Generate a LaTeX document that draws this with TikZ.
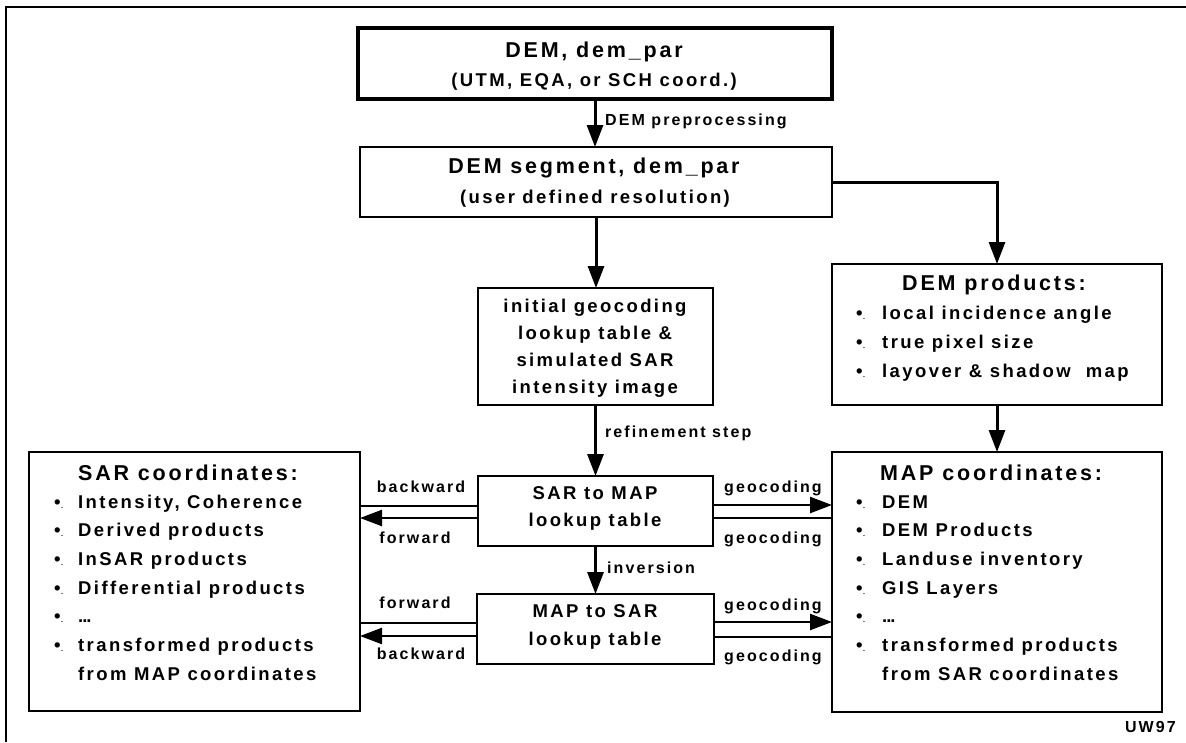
\documentclass[tikz,border=0pt]{standalone}
\usepackage{fontspec}
\setmainfont{Liberation Sans}[LetterSpace=13]
\usetikzlibrary{arrows.meta}
\tikzset{
  box/.style={draw, line width=1.2pt, inner sep=0pt, outer sep=0pt},
  thickbox/.style={box, line width=3.5pt},
  medbox/.style={box, line width=2.5pt},
  big/.style={font=\bfseries\fontsize{21.5}{21.5}\selectfont, inner sep=0pt, anchor=base},
  txt/.style={font=\bfseries\fontsize{18.5}{18.5}\selectfont, inner sep=0pt, anchor=base},
  lbl/.style={font=\bfseries\fontsize{16}{16}\selectfont, inner sep=0pt, anchor=base},
  bul/.style={txt, anchor=base west},
  arr/.style={line width=3pt, -{Triangle[length=22pt,width=16pt]}},
  harr/.style={line width=2.4pt, -{Triangle[length=22pt,width=16pt]}},
  plain/.style={line width=1.6pt},
  frame/.style={line width=2.5pt}
}
\newcommand{\bulletmark}{•\kern0.5pt{\fontsize{7}{7}\selectfont.}}
\newcommand{\threedots}{.\kern-1pt.\kern-1pt.}
\begin{document}
\begin{tikzpicture}[x=1pt,y=-1pt]
\useasboundingbox (0,0) rectangle (1186,742);
\draw[frame] (6,742) -- (6,7) -- (1186,7);

% boxes
\node[thickbox, minimum width=474pt, minimum height=71pt] (dem) at (595,63.5) {};
\node[box, minimum width=472pt, minimum height=70pt] (seg) at (596,182) {};
\node[box, minimum width=235pt, minimum height=117pt] (init) at (595.5,346.5) {};
\node[box, minimum width=235pt, minimum height=70pt] (s2m) at (595.5,511) {};
\node[medbox, minimum width=237pt, minimum height=70pt] (m2s) at (595.5,629) {};
\node[box, minimum width=331pt, minimum height=259pt] (sarc) at (194.5,581.5) {};
\node[box, minimum width=330pt, minimum height=141pt] (demp) at (997,334.5) {};
\node[box, minimum width=330pt, minimum height=260pt] (mapc) at (997,582) {};

% box texts
\node[big] (demA) at (594,57) {DEM, dem\_par};
\node[txt] (demB) at (594,86) {(UTM, EQA, or SCH coord.)};
\node[big] (segA) at (594,173) {DEM segment, dem\_par};
\node[txt] (segB) at (595,203) {(user defined resolution)};
\node[txt] (initA) at (595,312) {initial geocoding};
\node[txt] (initB) at (595,339) {lookup table \&};
\node[txt] (initC) at (595,366) {simulated SAR};
\node[txt] (initD) at (595,393) {intensity image};
\node[txt] (s2mA) at (595,499) {SAR to MAP};
\node[txt] (s2mB) at (595,526) {lookup table};
\node[txt] (m2sA) at (595,617) {MAP to SAR};
\node[txt] (m2sB) at (595,645) {lookup table};

% DEM products
\node[big, anchor=base west] (dempT) at (902,290) {DEM products:};
\foreach \i in {0,1,2}{
  \node[bul] (dempb\i) at (856,319+29*\i) {\bulletmark};
}
\node[bul] (dempi0) at (882,319) {local incidence angle};
\node[bul] (dempi1) at (882,348) {true pixel size};
\node[bul] (dempi2) at (882,377) {layover \& shadow\ \ map};

% SAR coordinates
\node[big, anchor=base west] (sarcT) at (78,480) {SAR coordinates:};
\foreach \i in {0,...,5}{
  \node[bul] (sarcb\i) at (54,508+28.67*\i) {\bulletmark};
  \node[bul] (mapcb\i) at (856,508+28.67*\i) {\bulletmark};
}
\node[bul] (sarci0) at (78,508) {Intensity, Coherence};
\node[bul] (sarci1) at (78,536.67) {Derived products};
\node[bul] (sarci2) at (78,565.33) {InSAR products};
\node[bul] (sarci3) at (78,594) {Differential products};
\node[bul] (sarci4) at (78,622.67) {\threedots};
\node[bul] (sarci5) at (78,651.33) {transformed products};
\node[bul] (sarci6) at (78,680) {from MAP coordinates};

% MAP coordinates
\node[big, anchor=base west] (mapcT) at (880,480) {MAP coordinates:};
\node[bul] (mapci0) at (882,508) {DEM};
\node[bul] (mapci1) at (882,536.67) {DEM Products};
\node[bul] (mapci2) at (882,565.33) {Landuse inventory};
\node[bul] (mapci3) at (882,594) {GIS Layers};
\node[bul] (mapci4) at (882,622.67) {\threedots};
\node[bul] (mapci5) at (882,651.33) {transformed products};
\node[bul] (mapci6) at (882,680) {from SAR coordinates};

% vertical arrows
\draw[arr] (dem.south) -- (dem.south |- seg.north);
\draw[arr] (seg.south) -- (seg.south |- init.north);
\draw[arr] (init.south) -- (s2m.north);
\draw[arr] (s2m.south) -- (m2s.north);
\draw[arr] (seg.east) -| (demp.north);
\draw[arr] (demp.south) -- (mapc.north);

% horizontal connectors
\draw[plain] (s2m.west |- 0,506) -- (sarc.east |- 0,506);
\draw[harr] (s2m.west |- 0,518) -- (sarc.east |- 0,518);
\draw[harr] (s2m.east |- 0,505) -- (mapc.west |- 0,505);
\draw[plain] (s2m.east |- 0,518) -- (mapc.west |- 0,518);
\draw[plain] (m2s.west |- 0,623) -- (sarc.east |- 0,623);
\draw[harr] (m2s.west |- 0,636) -- (sarc.east |- 0,636);
\draw[harr] (m2s.east |- 0,622) -- (mapc.west |- 0,622);
\draw[plain] (m2s.east |- 0,637) -- (mapc.west |- 0,637);

% labels
\node[lbl, anchor=base west] (lpre) at (605,125) {DEM preprocessing};
\node[lbl, anchor=base west] (lref) at (605,437) {refinement step};
\node[lbl, anchor=base west] (linv) at (607,573) {inversion};
\node[lbl] (lb1) at (421,492) {backward};
\node[lbl] (lf1) at (415,543) {forward};
\node[lbl] (lf2) at (415,608) {forward};
\node[lbl] (lb2) at (421,659) {backward};
\node[lbl] (lg1) at (773,492) {geocoding};
\node[lbl] (lg2) at (773,543) {geocoding};
\node[lbl] (lg3) at (773,610) {geocoding};
\node[lbl] (lg4) at (773,661) {geocoding};
\node[lbl, anchor=base east] (uw) at (1176,732) {UW97};
\end{tikzpicture}
\end{document}
